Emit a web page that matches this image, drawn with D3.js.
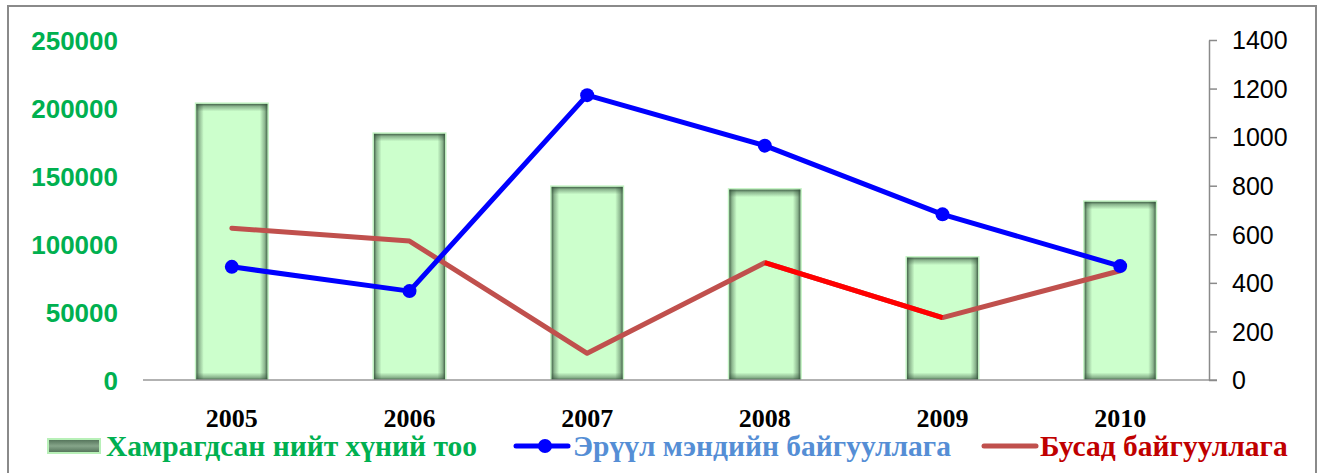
<!DOCTYPE html>
<html>
<head>
<meta charset="utf-8">
<script src="https://cdn.jsdelivr.net/npm/d3@7"></script>
<style>
  html, body { margin: 0; padding: 0; background: #ffffff; }
  svg { display: block; }
</style>
</head>
<body>
<svg id="chart" width="1320" height="473"></svg>
<script>
// Categories and series
const years = ["2005", "2006", "2007", "2008", "2009", "2010"];
const totalPeople = [203000, 181000, 142000, 140000, 90000, 131000];   // bars, left axis
const healthOrgs = [466, 366, 1173, 965, 682, 469];                   // blue line, right axis
const otherOrgs = [625, 572, 110, 483, 257, 450];                     // red line, right axis
const leftTicks = [0, 50000, 100000, 150000, 200000, 250000];
const rightTicks = [0, 200, 400, 600, 800, 1000, 1200, 1400];
const seriesNames = ["Хамрагдсан нийт хүний тоо", "Эрүүл мэндийн байгууллага", "Бусад байгууллага"];
// The 2008–2009 stretch of the "other" line is drawn in bright red
const emphasisFrom = "2008", emphasisTo = "2009";

const svg = d3.select("#chart");
const plot = { left: 143, right: 1209, top: 40, bottom: 380 };
const serif = "'Liberation Serif', 'Times New Roman', serif";
const sans = "'Liberation Sans', Arial, sans-serif";

// Outer frame
svg.append("rect")
  .attr("x", 8).attr("y", 6).attr("width", 1308).attr("height", 480)
  .attr("fill", "none").attr("stroke", "#8a8a8a").attr("stroke-width", 2);

// Gradients for the shaded bar edges
const defs = svg.append("defs");
const shadeDark = "#33503a";
function edgeGradient(id, x1, y1, x2, y2) {
  const g = defs.append("linearGradient").attr("id", id)
    .attr("x1", x1).attr("y1", y1).attr("x2", x2).attr("y2", y2);
  g.append("stop").attr("offset", "0%").attr("stop-color", shadeDark).attr("stop-opacity", 0.88);
  g.append("stop").attr("offset", "35%").attr("stop-color", shadeDark).attr("stop-opacity", 0.42);
  g.append("stop").attr("offset", "100%").attr("stop-color", shadeDark).attr("stop-opacity", 0);
}
edgeGradient("edgeL", 0, 0, 1, 0);
edgeGradient("edgeR", 1, 0, 0, 0);
edgeGradient("edgeT", 0, 0, 0, 1);
edgeGradient("edgeB", 0, 1, 0, 0);

const legendGrad = defs.append("linearGradient").attr("id", "legendFill")
  .attr("x1", 0).attr("y1", 0).attr("x2", 0).attr("y2", 1);
legendGrad.append("stop").attr("offset", "0%").attr("stop-color", "#4f6e55");
legendGrad.append("stop").attr("offset", "50%").attr("stop-color", "#86a58a");
legendGrad.append("stop").attr("offset", "100%").attr("stop-color", "#4f6e55");

// Scales
const x = d3.scaleBand().domain(years).range([plot.left, plot.right])
  .paddingInner(0.6).paddingOuter(0.3);
const cx = d => x(d) + x.bandwidth() / 2;
const yL = d3.scaleLinear().domain([0, 250000]).range([plot.bottom, plot.top]);
const yR = d3.scaleLinear().domain([0, 1400]).range([plot.bottom, plot.top]);

// Bars
const bw = x.bandwidth();
const edge = 7.5;
const barG = svg.append("g").selectAll("g").data(years).join("g")
  .attr("transform", (d, i) => `translate(${x(d)},${yL(totalPeople[i])})`);
const bh = (d) => yL(0) - yL(totalPeople[years.indexOf(d)]);
barG.append("rect")
  .attr("x", -1.5).attr("y", -1.5).attr("width", bw + 3).attr("height", d => bh(d) + 1.5)
  .attr("fill", "#c3f3c3");
barG.append("rect")
  .attr("width", bw).attr("height", d => bh(d))
  .attr("fill", "#ccffcc");
barG.append("rect").attr("width", edge).attr("height", d => bh(d)).attr("fill", "url(#edgeL)");
barG.append("rect").attr("x", bw - edge).attr("width", edge).attr("height", d => bh(d)).attr("fill", "url(#edgeR)");
barG.append("rect").attr("width", bw).attr("height", edge).attr("fill", "url(#edgeT)");
barG.append("rect").attr("y", d => bh(d) - edge).attr("width", bw).attr("height", edge).attr("fill", "url(#edgeB)");

// Category baseline
svg.append("line")
  .attr("x1", plot.left).attr("x2", plot.right + 8)
  .attr("y1", plot.bottom).attr("y2", plot.bottom)
  .attr("stroke", "#999999").attr("stroke-width", 1.5);

// Left axis labels
const leftAxis = d3.axisLeft(yL).tickValues(leftTicks).tickSize(0).tickPadding(0).tickFormat(d3.format("d"));
const gL = svg.append("g").attr("transform", "translate(118,0)").call(leftAxis);
gL.select(".domain").remove();
gL.selectAll("text")
  .attr("fill", "#00b050")
  .style("font-family", sans)
  .style("font-weight", "bold")
  .style("font-size", "26px")
  .attr("dy", "0.35em");

// Right axis
const rightAxis = d3.axisRight(yR).tickValues(rightTicks).tickSize(8).tickPadding(15).tickSizeOuter(0).tickFormat(d3.format("d"));
const gR = svg.append("g").attr("transform", `translate(${plot.right},0)`).call(rightAxis);
gR.select(".domain").attr("stroke", "#8a8a8a").attr("stroke-width", 1.5);
gR.selectAll(".tick line").attr("stroke", "#8a8a8a").attr("stroke-width", 1.5);
gR.selectAll("text")
  .attr("fill", "#000000")
  .style("font-family", sans)
  .style("font-size", "25px")
  .attr("dy", "0.35em");

// Year labels
const bottomAxis = d3.axisBottom(x).tickSize(0).tickPadding(0);
const gB = svg.append("g").attr("transform", "translate(0,418)").call(bottomAxis);
gB.select(".domain").remove();
gB.selectAll("text")
  .attr("y", 0)
  .attr("fill", "#000000")
  .attr("dy", "0.35em")
  .style("font-family", serif)
  .style("font-weight", "bold")
  .style("font-size", "26px");

// Lines
const line = (vals) => d3.line().x(d => cx(d)).y(d => yR(vals[years.indexOf(d)]));

svg.append("path")
  .attr("d", line(otherOrgs)(years))
  .attr("fill", "none").attr("stroke", "#c0504d").attr("stroke-width", 5)
  .attr("stroke-linejoin", "round").attr("stroke-linecap", "round");
svg.append("path")
  .attr("d", line(otherOrgs)([emphasisFrom, emphasisTo]))
  .attr("fill", "none").attr("stroke", "#ff0000").attr("stroke-width", 5)
  .attr("stroke-linecap", "butt");

svg.append("path")
  .attr("d", line(healthOrgs)(years))
  .attr("fill", "none").attr("stroke", "#0000ff").attr("stroke-width", 5)
  .attr("stroke-linejoin", "round");
svg.append("g").selectAll("circle").data(years).join("circle")
  .attr("cx", d => cx(d))
  .attr("cy", (d, i) => yR(healthOrgs[i]))
  .attr("r", 7)
  .attr("fill", "#0000ff");

// Legend
const legend = svg.append("g");
const ly = 446;
const legendText = (x0, color, label) =>
  legend.append("text")
    .attr("x", x0).attr("y", ly)
    .attr("dy", "0.35em")
    .attr("fill", color)
    .style("font-family", serif).style("font-weight", "bold").style("font-size", "29.5px")
    .text(label);

legend.append("rect").attr("x", 48).attr("y", ly - 7).attr("width", 52).attr("height", 14)
  .attr("fill", "url(#legendFill)").attr("stroke", "#b8f0b8").attr("stroke-width", 2);
legendText(106, "#00b050", seriesNames[0]);

legend.append("line").attr("x1", 516).attr("x2", 568).attr("y1", ly).attr("y2", ly)
  .attr("stroke", "#0000ff").attr("stroke-width", 5).attr("stroke-linecap", "round");
legend.append("circle").attr("cx", 545).attr("cy", ly).attr("r", 7).attr("fill", "#0000ff");
legendText(573, "#558ed5", seriesNames[1]);

legend.append("line").attr("x1", 984).attr("x2", 1036).attr("y1", ly).attr("y2", ly)
  .attr("stroke", "#c0504d").attr("stroke-width", 5).attr("stroke-linecap", "round");
legendText(1040, "#c00000", seriesNames[2]);
</script>
</body>
</html>
